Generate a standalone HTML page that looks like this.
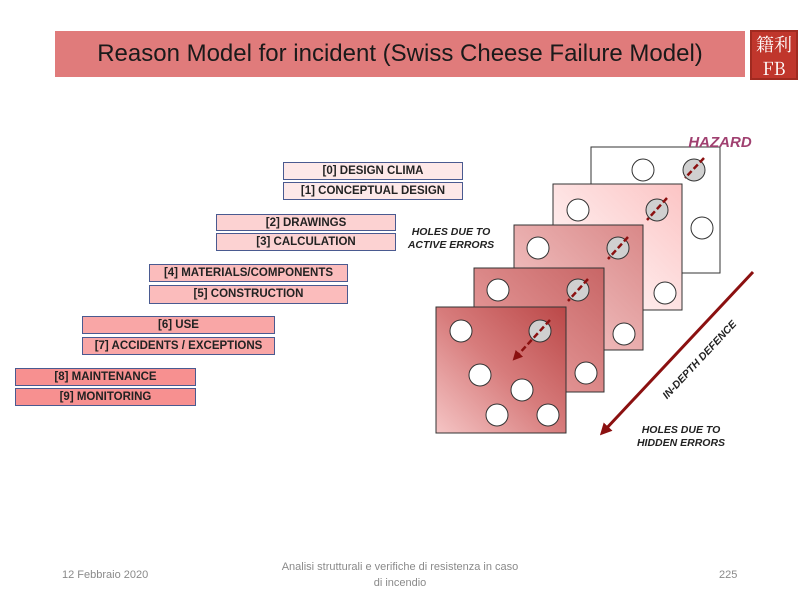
<!DOCTYPE html>
<html><head><style>
body{margin:0;width:800px;height:600px;background:#fff;position:relative;overflow:hidden;font-family:"Liberation Sans",sans-serif}
.t{position:absolute;left:55px;top:31px;width:690px;height:46px;background:#e07b7b;color:#1a1a1a;font-size:24px;line-height:46px;text-align:center}
.b{position:absolute;box-sizing:border-box;border:1px solid #4a5a90;font-size:11.5px;font-weight:bold;color:#222;text-align:center;line-height:16px}
.f{position:absolute;color:#8a8a8a;font-size:11px}
</style></head><body>
<div class="t">Reason Model for incident (Swiss Cheese Failure Model)</div>
<div style="position:absolute;left:750px;top:30px;width:48px;height:50px;background:#c0362c;color:#fff;font-size:18px;line-height:24px;text-align:center;font-family:'Noto Serif CJK SC',serif;border:2px solid #a02a20;box-sizing:border-box">籍利<br>FB</div>

<div class="b" style="left:283px;top:162px;width:180px;height:18px;background:#fde8e8">[0] DESIGN CLIMA</div>
<div class="b" style="left:283px;top:182px;width:180px;height:18px;background:#fde8e8">[1] CONCEPTUAL DESIGN</div>
<div class="b" style="left:216px;top:214px;width:180px;height:17px;background:#fcd2d2">[2] DRAWINGS</div>
<div class="b" style="left:216px;top:233px;width:180px;height:18px;background:#fcd2d2">[3] CALCULATION</div>
<div class="b" style="left:149px;top:264px;width:199px;height:18px;background:#fbbcbc">[4] MATERIALS/COMPONENTS</div>
<div class="b" style="left:149px;top:285px;width:199px;height:19px;background:#fbbcbc">[5] CONSTRUCTION</div>
<div class="b" style="left:82px;top:316px;width:193px;height:18px;background:#f9a6a6">[6] USE</div>
<div class="b" style="left:82px;top:337px;width:193px;height:18px;background:#f9a6a6">[7] ACCIDENTS / EXCEPTIONS</div>
<div class="b" style="left:15px;top:368px;width:181px;height:18px;background:#f79090">[8] MAINTENANCE</div>
<div class="b" style="left:15px;top:388px;width:181px;height:18px;background:#f79090">[9] MONITORING</div>

<svg width="800" height="600" style="position:absolute;left:0;top:0">
<defs>
<linearGradient id="g2" x1="0" y1="1" x2="1" y2="0"><stop offset="0" stop-color="#fff"/><stop offset="1" stop-color="#fcc4c4"/></linearGradient>
<linearGradient id="g3" x1="0" y1="1" x2="1" y2="0"><stop offset="0" stop-color="#f8d0d0"/><stop offset="1" stop-color="#d98888"/></linearGradient>
<linearGradient id="g4" x1="0" y1="1" x2="1" y2="0"><stop offset="0" stop-color="#eeaaaa"/><stop offset="1" stop-color="#c86666"/></linearGradient>
<linearGradient id="g5" x1="0" y1="1" x2="1" y2="0"><stop offset="0" stop-color="#f5c5c5"/><stop offset="0.5" stop-color="#d77c7c"/><stop offset="1" stop-color="#bb4848"/></linearGradient>
<marker id="ah" viewBox="0 0 10 10" refX="5" refY="5" markerWidth="4" markerHeight="4" orient="auto"><path d="M0,0L10,5L0,10z" fill="#8b1010"/></marker>
</defs>
<g stroke="#333" stroke-width="1">
<rect x="591" y="147" width="129" height="126" fill="#fff"/>
<circle cx="643" cy="170" r="11" fill="#fff"/><circle cx="694" cy="170" r="11" fill="#d0d0d0"/>
<rect x="553" y="184" width="129" height="126" fill="url(#g2)"/>
<circle cx="702" cy="228" r="11" fill="#fff"/>
<circle cx="578" cy="210" r="11" fill="#fff"/><circle cx="657" cy="210" r="11" fill="#d0d0d0"/>
<rect x="514" y="225" width="129" height="125" fill="url(#g3)"/>
<circle cx="665" cy="293" r="11" fill="#fff"/>
<circle cx="538" cy="248" r="11" fill="#fff"/><circle cx="618" cy="248" r="11" fill="#d0d0d0"/>
<rect x="474" y="268" width="130" height="124" fill="url(#g4)"/>
<circle cx="624" cy="334" r="11" fill="#fff"/>
<circle cx="498" cy="290" r="11" fill="#fff"/><circle cx="578" cy="290" r="11" fill="#d0d0d0"/>
<rect x="436" y="307" width="130" height="126" fill="url(#g5)"/>
<circle cx="586" cy="373" r="11" fill="#fff"/>
<circle cx="461" cy="331" r="11" fill="#fff"/><circle cx="540" cy="331" r="11" fill="#d0d0d0"/>
<circle cx="480" cy="375" r="11" fill="#fff"/><circle cx="522" cy="390" r="11" fill="#fff"/>
<circle cx="497" cy="415" r="11" fill="#fff"/><circle cx="548" cy="415" r="11" fill="#fff"/>
</g>
<g stroke="#8b1010" stroke-width="2.5" stroke-dasharray="6,3">
<line x1="704" y1="158" x2="685" y2="178"/><line x1="667" y1="198" x2="647" y2="220"/>
<line x1="628" y1="237" x2="608" y2="259"/><line x1="588" y1="279" x2="568" y2="301"/>
<line x1="550" y1="320" x2="516" y2="357" marker-end="url(#ah)"/>
</g>
<line x1="753" y1="272" x2="604" y2="431" stroke="#8b1010" stroke-width="3" marker-end="url(#ah)"/>
<text x="720" y="147" text-anchor="middle" font-size="15" font-weight="bold" font-style="italic" fill="#a04070" font-family="Liberation Sans">HAZARD</text>
<g font-size="10.5" font-weight="bold" font-style="italic" fill="#222" font-family="Liberation Sans" text-anchor="middle">
<text x="451" y="235">HOLES DUE TO</text><text x="451" y="248">ACTIVE ERRORS</text>
<text x="681" y="433">HOLES DUE TO</text><text x="681" y="446">HIDDEN ERRORS</text>
<text x="702" y="362" transform="rotate(-47 702 362)">IN-DEPTH DEFENCE</text>
</g>
</svg>

<div class="f" style="left:62px;top:569px">12 Febbraio 2020</div>
<div class="f" style="left:280px;top:559px;width:240px;text-align:center;line-height:16px">Analisi strutturali e verifiche di resistenza in caso di incendio</div>
<div class="f" style="left:719px;top:569px">225</div>
</body></html>
